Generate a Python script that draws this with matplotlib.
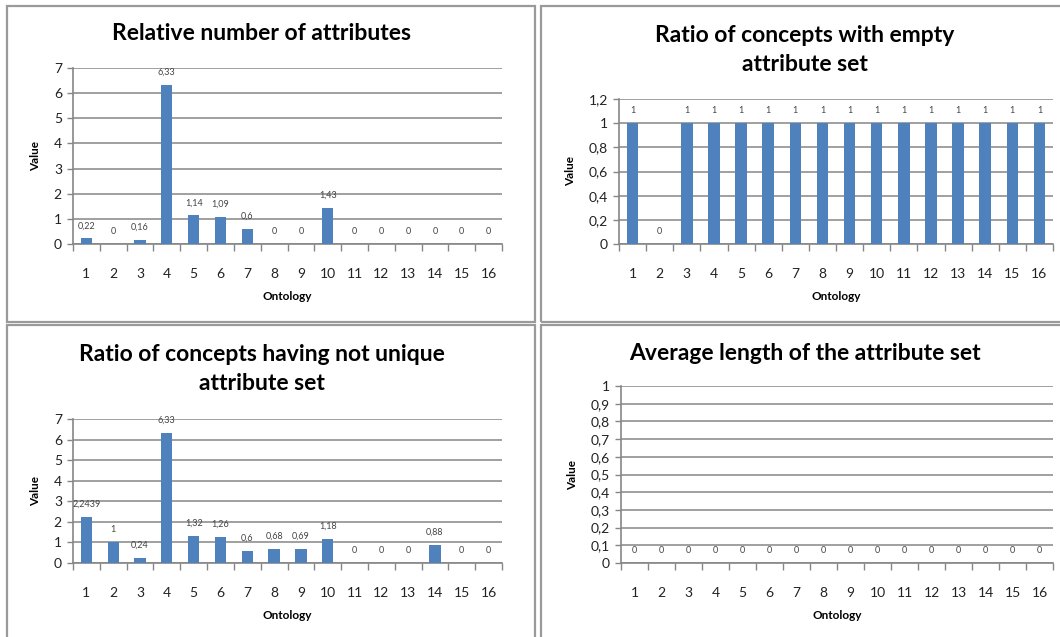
import matplotlib
matplotlib.use("Agg")
import matplotlib.pyplot as plt
from matplotlib.patches import Rectangle
import numpy as np

plt.rcParams['font.family'] = ['Lato', 'DejaVu Sans']

ontologies = list(range(1, 17))
rel_num_attributes = [0.22, 0, 0.16, 6.33, 1.14, 1.09, 0.6, 0, 0, 1.43, 0, 0, 0, 0, 0, 0]
ratio_empty = [1, 0, 1, 1, 1, 1, 1, 1, 1, 1, 1, 1, 1, 1, 1, 1]
ratio_not_unique = [2.2439, 1, 0.24, 6.33, 1.32, 1.26, 0.6, 0.68, 0.69, 1.18, 0, 0, 0, 0.88, 0, 0]
avg_length = [0] * 16

titles = ["Relative number of attributes",
          "Ratio of concepts with empty\nattribute set",
          "Ratio of concepts having not unique\nattribute set",
          "Average length of the attribute set"]
yticks_list = [[0, 1, 2, 3, 4, 5, 6, 7],
               [0, 0.2, 0.4, 0.6, 0.8, 1.0, 1.2],
               [0, 1, 2, 3, 4, 5, 6, 7],
               [0, 0.1, 0.2, 0.3, 0.4, 0.5, 0.6, 0.7, 0.8, 0.9, 1.0]]

W, H = 1060, 637
fig = plt.figure(figsize=(W / 100, H / 100), dpi=100)

def frect(x0, x1, ytop, ybot):
    return [x0 / W, 1 - ybot / H, (x1 - x0) / W, (ybot - ytop) / H]

# panel borders
border_col = '#9a9a9a'
for (x0, y0, x1, y1) in [(7, 6, 535, 322), (541, 6, 1062, 322),
                         (7, 325, 535, 640), (541, 325, 1062, 640)]:
    fig.patches.append(Rectangle((x0 / W, 1 - y1 / H), (x1 - x0) / W, (y1 - y0) / H,
                                 transform=fig.transFigure, fill=False,
                                 edgecolor=border_col, linewidth=1.6))

axes_px = [(73, 502, 68, 244), (619, 1053, 99, 244),
           (73, 502, 419, 563), (621, 1053, 386, 563)]
title_pos = [(262, 34), (805, 50), (262, 369), (805, 353)]
datasets = [rel_num_attributes, ratio_empty, ratio_not_unique, avg_length]

grid_col = '#868686'
bar_col = '#4F81BD'

def fmt(v):
    s = f"{v:g}"
    return s.replace('.', ',')

for i in range(4):
    x0, x1, yt, yb = axes_px[i]
    ax = fig.add_axes(frect(x0, x1, yt, yb))
    vals = datasets[i]
    yt_ = yticks_list[i]
    ax.bar(ontologies, vals, width=0.42, color=bar_col, zorder=3)
    ax.set_xlim(0.5, 16.5)
    ax.set_ylim(0, yt_[-1])
    ax.set_yticks(yt_)
    ax.set_yticklabels([fmt(round(t, 1)) for t in yt_], fontsize=10, color='#222222')
    ax.set_xticks(ontologies)
    ax.set_xticklabels([str(o) for o in ontologies], fontsize=10, color='#222222')
    ax.set_xticks(np.arange(0.5, 17, 1), minor=True)
    ax.tick_params(axis='x', which='major', length=0, pad=17)
    ax.tick_params(axis='x', which='minor', length=5, width=1, color=grid_col, direction='out')
    ax.tick_params(axis='y', which='major', length=4, width=1, color=grid_col, pad=4)
    for s in ['top', 'right']:
        ax.spines[s].set_visible(False)
    for s in ['left', 'bottom']:
        ax.spines[s].set_color(grid_col)
        ax.spines[s].set_linewidth(1.2)
    ax.yaxis.grid(True, color=grid_col, linewidth=1.1, zorder=0)
    ax.set_axisbelow(True)
    for x, v in zip(ontologies, vals):
        ax.annotate(fmt(v), (x, v), xytext=(0, 9), textcoords='offset points',
                    ha='center', va='center', fontsize=6.5, color='#444444')
    ax.set_ylabel('Value', fontsize=8.5, fontweight='bold', labelpad=9)
    ax.set_xlabel('Ontology', fontsize=8.5, fontweight='bold', labelpad=8)
    tx, ty = title_pos[i]
    fig.text(tx / W, 1 - ty / H, titles[i], ha='center', va='center',
             fontsize=16.5, fontweight='bold', linespacing=1.5)

fig.savefig('out.png', dpi=100)
